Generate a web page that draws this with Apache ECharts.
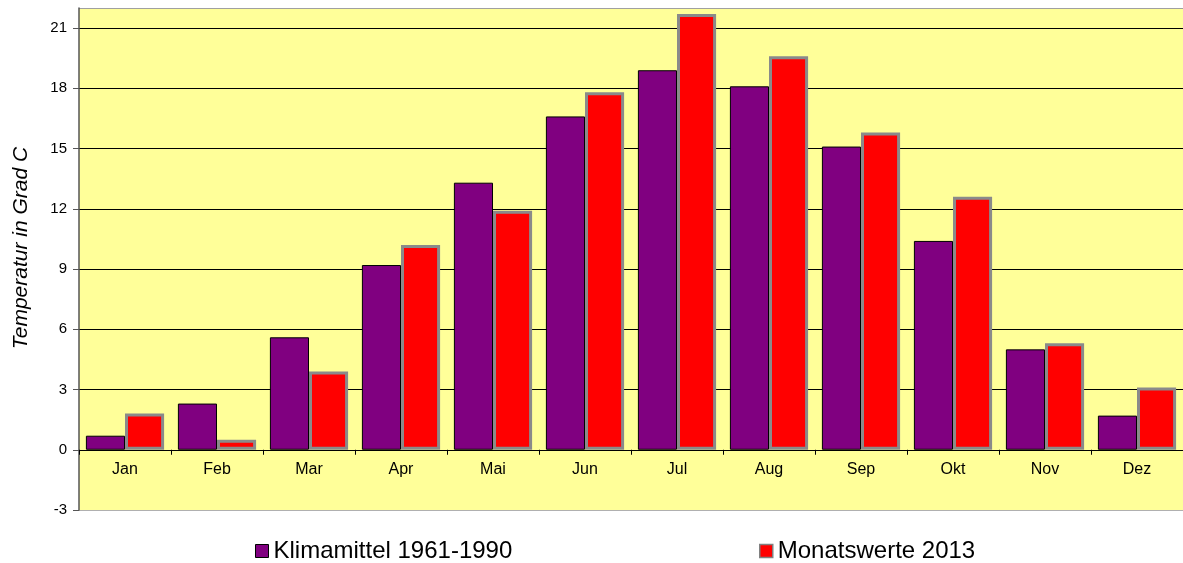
<!DOCTYPE html>
<html>
<head>
<meta charset="utf-8">
<script src="https://cdn.jsdelivr.net/npm/echarts@6/dist/echarts.min.js"></script>
<style>html,body{margin:0;padding:0;background:#fff;}#c{width:1183px;height:563px;}</style>
</head>
<body>
<div id="c"></div>
<script>
var months = ['Jan','Feb','Mar','Apr','Mai','Jun','Jul','Aug','Sep','Okt','Nov','Dez'];
var klimamittel = [0.7, 2.3, 5.6, 9.2, 13.3, 16.6, 18.9, 18.1, 15.1, 10.4, 5.0, 1.7];
var monatswerte = [1.8, 0.5, 3.9, 10.2, 11.9, 17.8, 21.7, 19.6, 15.8, 12.6, 5.3, 3.1];
var seriesNames = ['Klimamittel 1961-1990', 'Monatswerte 2013'];
var axisName = 'Temperatur in Grad C';
var yMin = -3, yMax = 22, yStep = 3;

var font = 'Liberation Sans, Arial, sans-serif';
var gridTop = 8, gridBottom = 53, H = 563;
var plotH = H - gridTop - gridBottom;
var zeroOffset = -(0 - yMin) / (yMax - yMin) * plotH;

var chart = echarts.init(document.getElementById('c'), null, {renderer: 'canvas'});
chart.setOption({
  animation: false,
  backgroundColor: '#ffffff',
  grid: {
    left: 79, right: 0, top: gridTop, bottom: gridBottom,
    show: true, backgroundColor: '#ffff99', borderWidth: 0
  },
  legend: [
    {
      data: [seriesNames[0]], left: 250, top: 534,
      itemWidth: 13, itemHeight: 13, icon: 'rect',
      itemStyle: {borderColor: '#000', borderWidth: 1},
      textStyle: {fontFamily: font, fontSize: 24, color: '#000'}
    },
    {
      data: [seriesNames[1]], left: 754, top: 534,
      itemWidth: 13, itemHeight: 13, icon: 'rect',
      itemStyle: {borderColor: '#808080', borderWidth: 1.5},
      textStyle: {fontFamily: font, fontSize: 24, color: '#000'}
    }
  ],
  xAxis: {
    type: 'category',
    data: months,
    offset: zeroOffset,
    axisLine: {onZero: false, lineStyle: {color: '#000', width: 1}},
    axisTick: {show: true, length: 5, interval: 0, lineStyle: {color: '#000'}},
    axisLabel: {fontFamily: font, fontSize: 16, color: '#000', margin: 12, interval: 0},
    splitLine: {show: false}
  },
  yAxis: {
    type: 'value',
    min: yMin, max: yMax, interval: yStep,
    name: axisName,
    nameLocation: 'middle',
    nameGap: 47,
    nameTextStyle: {fontFamily: font, fontSize: 21, fontStyle: 'italic', color: '#000', padding: [0, 0, 0, 22]},
    axisLine: {show: true, lineStyle: {color: '#555', width: 1.5}},
    axisTick: {show: true, length: 6, lineStyle: {color: '#555'}},
    axisLabel: {fontFamily: font, fontSize: 15, color: '#000', margin: 12, showMaxLabel: false},
    splitLine: {show: true, lineStyle: {width: 1, color: ['#b0b0b0', '#000', '#000', '#000', '#000', '#000', '#000', '#000', '#000', '#a0a0a0']}}
  },
  series: [
    {
      name: seriesNames[0], type: 'bar', data: klimamittel,
      barGap: '0%', barCategoryGap: '15%',
      itemStyle: {color: '#800080', borderColor: '#000', borderWidth: 1}
    },
    {
      name: seriesNames[1], type: 'bar', data: monatswerte,
      barGap: '0%', barCategoryGap: '15%',
      itemStyle: {color: '#ff0000', borderColor: '#8a8a8a', borderWidth: 3}
    }
  ]
});
</script>
</body>
</html>
